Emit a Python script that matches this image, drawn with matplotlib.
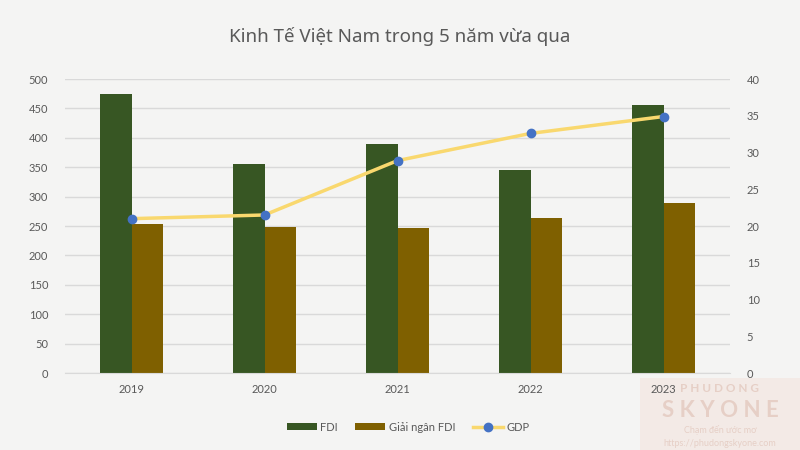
import numpy as np
import matplotlib
matplotlib.use('Agg')
import matplotlib.pyplot as plt
from matplotlib.patches import Rectangle

plt.rcParams['font.family'] = ['Lato', 'DejaVu Sans']

# --------------------------- data ---------------------------
years = ['2019', '2020', '2021', '2022', '2023']
fdi = [475, 356, 389, 345, 456]
giai_ngan = [254, 249, 247, 263, 289]
gdp = [21.0, 21.5, 28.9, 32.6, 34.9]

title = 'Kinh Tế Việt Nam trong 5 năm vừa qua'

# --------------------------- style ---------------------------
bg = '#F4F4F3'
c_fdi = '#375623'
c_gn = '#7F6000'
c_line = '#F9D86E'
c_mark = '#4472C4'
c_text = '#595959'
c_grid = '#D9D9D9'

fig = plt.figure(figsize=(8, 4.5), dpi=100, facecolor=bg)

# watermark box in bottom-right corner (drawn under everything)
fig.add_artist(Rectangle((0.8, 0.0), 0.2, 0.16, transform=fig.transFigure,
                         facecolor='#F3E4DE', edgecolor='none', alpha=0.6, zorder=-5))

ax1 = fig.add_axes([0.08125, 0.1711, 0.83125, 0.6533])
ax1.set_facecolor(bg)
ax2 = ax1.twinx()

x = np.arange(len(years))
w = 0.24
ax1.bar(x - w/2, fdi, width=w, color=c_fdi, label='FDI', zorder=2)
ax1.bar(x + w/2, giai_ngan, width=w, color=c_gn, label='Giải ngân FDI', zorder=2)
ax2.plot(x, gdp, color=c_line, lw=2.5, marker='o', ms=6,
         mfc=c_mark, mec=c_mark, label='GDP', zorder=3)

ax1.set_xlim(-0.5, len(years) - 0.5)
ax1.set_ylim(0, 500)
ax2.set_ylim(0, 40)
ax1.set_yticks(np.arange(0, 501, 50))
ax2.set_yticks(np.arange(0, 41, 5))
ax1.set_xticks(x)
ax1.set_xticklabels(years)

ax1.grid(axis='y', color=c_grid, lw=1, zorder=0)
ax1.set_axisbelow(True)
for ax in (ax1, ax2):
    for s in ax.spines.values():
        s.set_visible(False)
    ax.tick_params(length=0, colors=c_text, labelsize=8)
ax1.spines['bottom'].set_visible(True)
ax1.spines['bottom'].set_color(c_grid)
ax1.tick_params(axis='y', pad=12)
ax2.tick_params(axis='y', pad=12)
ax1.tick_params(axis='x', pad=8)

fig.text(0.5, 0.918, title, ha='center', va='center', fontsize=13.5,
         color=c_text, family=['Noto Sans', 'DejaVu Sans'])

h1, l1 = ax1.get_legend_handles_labels()
h2, l2 = ax2.get_legend_handles_labels()
fig.legend(h1 + h2, l1 + l2, loc='center', bbox_to_anchor=(0.51, 0.051),
           ncol=3, frameon=False, fontsize=8, labelcolor=c_text,
           handlelength=2.7, handleheight=0.5, columnspacing=1.6, handletextpad=0.3)

# watermark text
wm = '#E6CFC6'
fig.text(0.9, 0.136, 'P H U D O N G', ha='center', va='center', fontsize=8.5,
         color=wm, fontweight='bold', zorder=-4)
fig.text(0.9, 0.088, 'S K Y O N E', ha='center', va='center', fontsize=16,
         color=wm, fontweight='bold', zorder=-4)
fig.text(0.9, 0.045, 'Chạm đến ước mơ', ha='center', va='center', fontsize=6.5,
         color=wm, zorder=-4)
fig.text(0.9, 0.015, 'https://phudongskyone.com', ha='center', va='center', fontsize=6.5,
         color=wm, zorder=-4)

plt.savefig('out.png', dpi=100, facecolor=bg)
